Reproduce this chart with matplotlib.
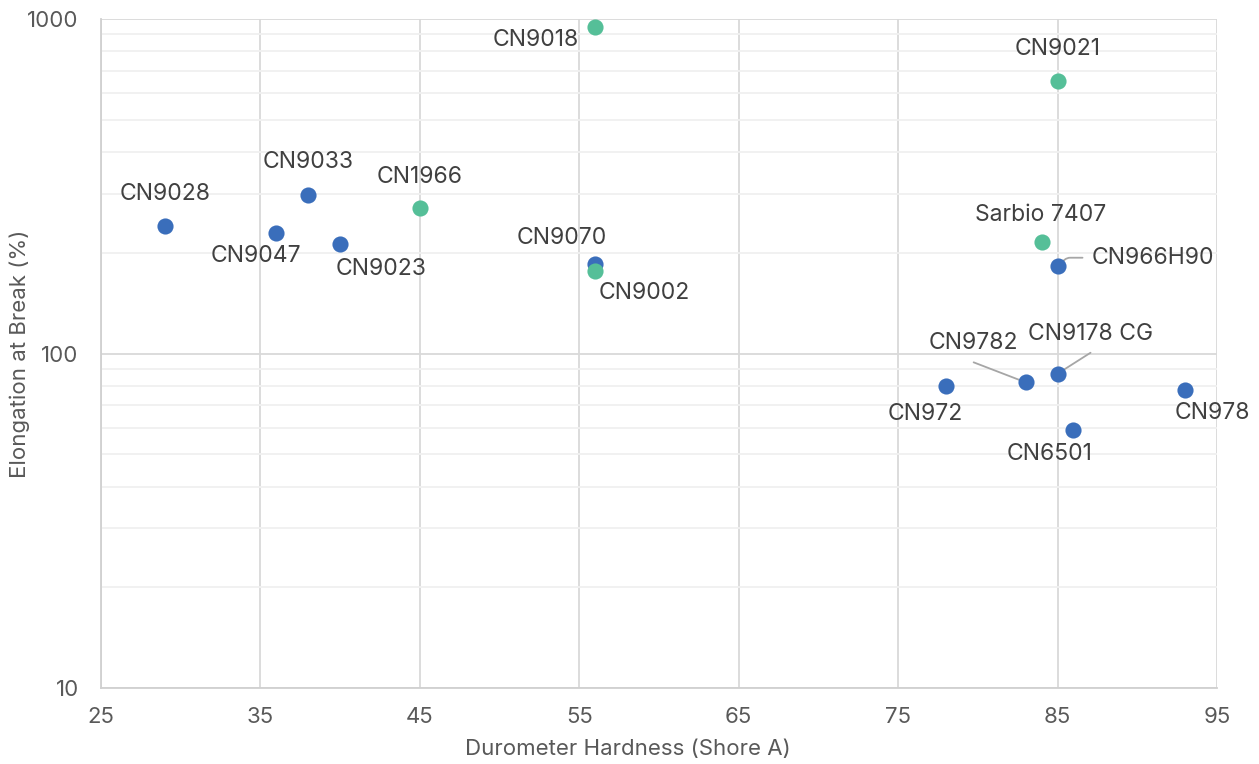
import matplotlib.pyplot as plt
from matplotlib.ticker import FixedLocator, NullFormatter

plt.rcParams['font.family'] = ['Inter', 'DejaVu Sans']

# hardness (Shore A), elongation at break (%)
names = ["CN9028", "CN9047", "CN9033", "CN9023", "CN1966", "CN9070", "CN9002",
         "CN9018", "CN9021", "Sarbio 7407", "CN966H90", "CN9178 CG", "CN9782",
         "CN972", "CN6501", "CN978"]
hardness = [29, 36, 38, 40, 45, 56, 56, 56, 85, 84, 85, 85, 83, 78, 86, 93]
elongation = [240, 230, 297, 212, 273, 185, 177, 946, 652, 216, 183, 87, 82, 80, 59, 78]
group = ["b", "b", "b", "b", "g", "b", "g", "g", "g", "g", "b", "b", "b", "b", "b", "b"]

# label offsets in pixels (dx, dy, leader line)
offsets = {
    "CN9028": (0, 32, False), "CN9047": (-20, -23, False), "CN9033": (0, 33, False),
    "CN9023": (41, -25, False), "CN1966": (0, 31, False), "CN9070": (-33, 26, False),
    "CN9002": (49, -22, False), "CN9018": (-59, -13, False), "CN9021": (0, 32, False),
    "Sarbio 7407": (-1, 27, False), "CN966H90": (95, 8, True), "CN9178 CG": (33, 40, True),
    "CN9782": (-52, 39, True), "CN972": (-21, -28, False), "CN6501": (-24, -24, False),
    "CN978": (27, -23, False),
}

colors = {"b": "#3A6EBB", "g": "#55BF98"}

fig = plt.figure(figsize=(12.59, 7.64), dpi=100)
ax = fig.add_axes([0.0802, 0.0995, 0.8864, 0.8756])

for n, x, y, g in zip(names, hardness, elongation, group):
    ax.scatter(x, y, s=135, color=colors[g], zorder=3, linewidths=0)

for n, x, y in zip(names, hardness, elongation):
    dx, dy, lead = offsets[n]
    if lead:
        if n == "CN966H90":
            ax.annotate("", xy=(x, y), xytext=(25, 8), textcoords="offset pixels",
                        arrowprops=dict(arrowstyle="-", color="#A6A6A6", lw=1.3,
                                        connectionstyle="angle,angleA=0,angleB=40,rad=3",
                                        shrinkA=0, shrinkB=0), zorder=2)
        else:
            ax.annotate("", xy=(x, y), xytext=(dx, dy - 19 if dy > 0 else dy), textcoords="offset pixels",
                        arrowprops=dict(arrowstyle="-", color="#A6A6A6", lw=1.3,
                                        shrinkA=0, shrinkB=0), zorder=2)
    ax.annotate(n, xy=(x, y), xytext=(dx, dy), textcoords="offset pixels",
                ha="center", va="center", fontsize=16.5, color="#404040", zorder=4)

ax.set_yscale("log")
ax.set_xlim(25, 95)
ax.set_ylim(10, 1000)
ax.set_xticks(range(25, 96, 10))
ax.yaxis.set_major_locator(FixedLocator([10, 100, 1000]))
ax.set_yticklabels(["10", "100", "1000"])
ax.yaxis.set_minor_locator(FixedLocator([m * d for d in (10, 100) for m in range(2, 10)]))
ax.yaxis.set_minor_formatter(NullFormatter())

ax.grid(True, which="major", color="#D9D9D9", lw=1.3)
ax.grid(True, which="minor", axis="y", color="#F0F0F0", lw=1.3)
ax.set_axisbelow(True)
for s in ["top", "right"]:
    ax.spines[s].set_visible(False)
for s in ["left", "bottom"]:
    ax.spines[s].set_color("#D0D0D0")
    ax.spines[s].set_linewidth(1.3)
ax.tick_params(which="both", length=0, labelsize=16, colors="#595959")
ax.tick_params(axis="y", pad=16)
ax.tick_params(axis="x", pad=14)

ax.set_xlabel("Durometer Hardness (Shore A)", fontsize=16, color="#595959", va="center")
ax.set_ylabel("Elongation at Break (%)", fontsize=16, color="#595959", va="center")
ax.xaxis.set_label_coords(0.4722, -0.091)
ax.yaxis.set_label_coords(-0.0726, 0.5)

fig.savefig("out.png", dpi=100)
